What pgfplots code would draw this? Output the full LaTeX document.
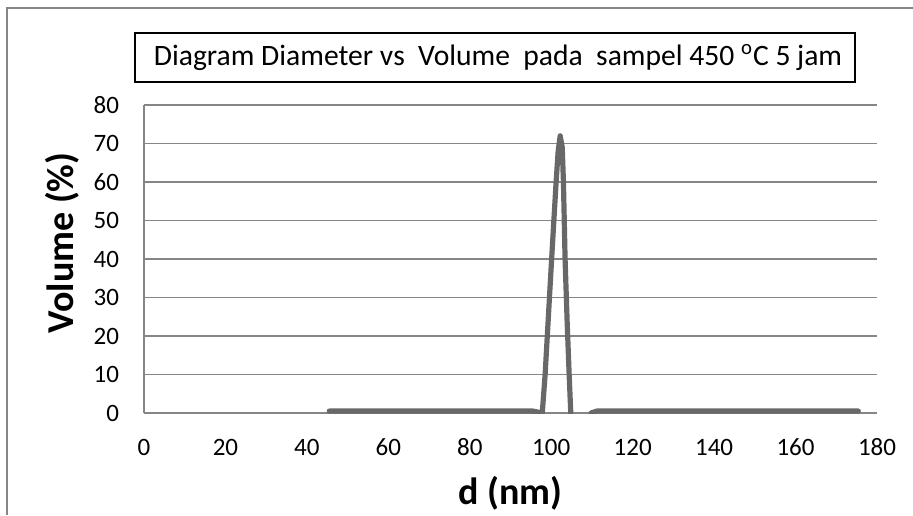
\documentclass[border=0pt]{standalone}
\usepackage{pgfplots}
\pgfplotsset{compat=1.18}
\usepackage{fontspec}
\setmainfont{Carlito}
\definecolor{linegray}{RGB}{104,104,104}
\definecolor{gridgray}{RGB}{134,134,134}
\begin{document}
\begin{tikzpicture}
\useasboundingbox (0,0) rectangle (456.5pt,257.5pt);
\draw[gridgray, line width=0.6pt] (3.5pt,0) -- (3.5pt,253.5pt) -- (456.5pt,253.5pt);
\begin{axis}[
  at={(72pt,51pt)}, anchor=south west,
  scale only axis, width=366.5pt, height=154pt,
  xmin=0, xmax=180, ymin=0, ymax=80,
  xtick={0,20,...,180}, ytick={0,10,...,80},
  axis x line*=bottom, axis y line*=left,
  axis line style={gridgray, line width=0.6pt, -},
  ymajorgrids, grid style={gridgray, line width=0.6pt},
  major tick length=0pt,
  /pgf/number format/assume math mode=true,
  ticklabel style={font=\fontsize{12.5}{14}\selectfont},
  yticklabel style={xshift=-9pt},
  xticklabel style={text height=8.5pt, text depth=0pt, anchor=north, yshift=-9pt},
  xlabel={\textbf{d (nm)}},
  ylabel={\textbf{Volume (\%)}},
  xlabel style={font=\fontsize{19}{22}\selectfont, at={(axis description cs:0.5,0)}, anchor=center, yshift=-40pt},
  ylabel style={font=\fontsize{19}{22}\selectfont, at={(axis description cs:0,0.5)}, anchor=center, yshift=41pt, xshift=8pt},
  unbounded coords=jump,
  clip=true,
]
\addplot[linegray, line width=2.6pt, line cap=round, line join=round] coordinates {
(45.5,0.5) (95.5,0.5) (97.8,0.0) (98.5,10) (99.3,25) (100.1,40) (100.7,51) (101.2,60) (101.7,68) (102.2,72) (102.7,69) (103.0,60) (103.4,40) (103.9,24) (104.4,10) (104.8,0)
(106,nan)
(109.8,0) (111.2,0.5) (175.4,0.5)
};
\end{axis}
\draw[black, line width=1pt] (67.5pt,216.5pt) rectangle (427.5pt,241pt);
\node[font=\fontsize{14.8}{16}\selectfont] at (249pt,228.75pt) {Diagram Diameter vs\ \ Volume\ \ pada\ \ sampel 450 \textsuperscript{o}C 5 jam};
\end{tikzpicture}
\end{document}
